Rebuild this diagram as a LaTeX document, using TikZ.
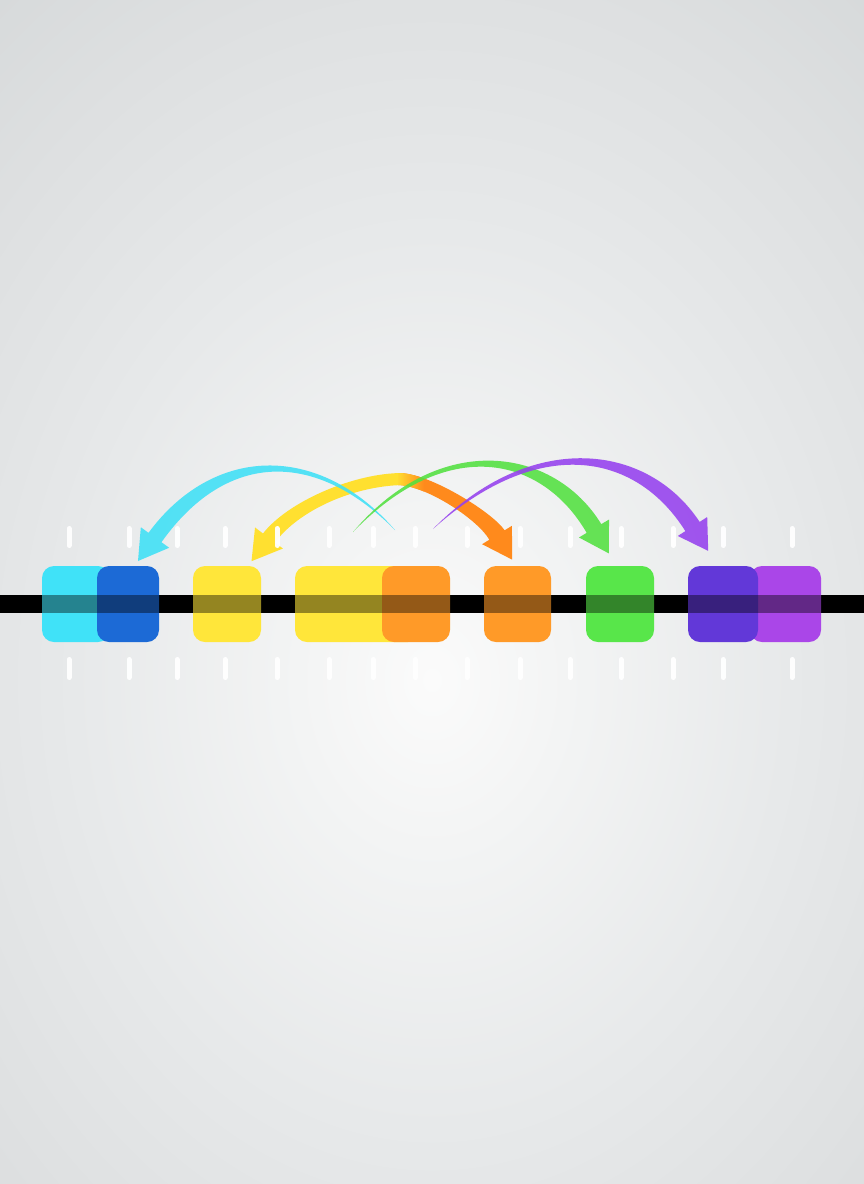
\documentclass[tikz,border=0pt]{standalone}
\usetikzlibrary{calc}
\definecolor{bgA}{HTML}{FBFBFB}
\definecolor{bgB}{HTML}{F3F4F4}
\definecolor{bgC}{HTML}{E7E9EA}
\definecolor{bgD}{HTML}{DEE0E1}
\definecolor{bgE}{HTML}{D6D9DA}
\definecolor{boxcyan}{HTML}{40E2F8}
\definecolor{boxblue}{HTML}{1C6AD6}
\definecolor{boxyellow}{HTML}{FFE63A}
\definecolor{boxorange}{HTML}{FF9A28}
\definecolor{boxgreen}{HTML}{58E64A}
\definecolor{boxindigo}{HTML}{6238D8}
\definecolor{boxviolet}{HTML}{AA46E8}
\definecolor{arrcyan}{HTML}{3EE0F6}
\definecolor{arryellow}{HTML}{FFE030}
\definecolor{arrorange}{HTML}{FF8A1C}
\definecolor{arrgreen}{HTML}{52E040}
\definecolor{arrpurple}{HTML}{9540EE}
\pgfdeclareradialshading{bgrad}{\pgfpoint{0bp}{0bp}}{color(0bp)=(bgA); color(6bp)=(bgB); color(16bp)=(bgC); color(25bp)=(bgD); color(32bp)=(bgE); color(50bp)=(bgE)}
% tapered arrow: #1 style, #2-#5 control coordinates, #6-#9 half widths
\newcommand\tarrow[9]{%
  \path[#1] ($(#2)!#6!-90:(#3)$) .. controls ($(#3)!#7!90:(#2)$) and ($(#4)!#8!-90:(#5)$) .. ($(#5)!#9!90:(#4)$)
    -- ($(#5)!#9!-90:(#4)$) .. controls ($(#4)!#8!90:(#5)$) and ($(#3)!#7!-90:(#2)$) .. ($(#2)!#6!90:(#3)$) -- cycle
    ($(#5)!17.5pt!90:(#4)$) -- ($(#5)!29pt!180:(#4)$) -- ($(#5)!17.5pt!-90:(#4)$) -- cycle;}
\tikzset{
  sqbox/.style={rounded corners=12pt},
  tickmark/.style={draw=white, line width=5pt, line cap=round, opacity=0.95},
  arrowfill/.style={fill=#1, opacity=0.88},
  solidfill/.style={fill=#1}
}
\begin{document}
\begin{tikzpicture}[x=1pt,y=-1pt]
\useasboundingbox (0,0) rectangle (864,1184);
\clip (0,0) rectangle (864,1184);
\shade[shading=bgrad] (-128,-20) rectangle (992,1380);
% track
\fill[black] (-5,595) rectangle (869,613);
% boxes
\fill[boxcyan, sqbox] (42,566) rectangle (110,642);
\fill[boxblue, sqbox] (97,566) rectangle (159,642);
\fill[boxyellow, sqbox] (193,566) rectangle (261,642);
\fill[boxyellow, sqbox] (295,566) rectangle (420,642);
\fill[boxorange, sqbox] (382,566) rectangle (450,642);
\fill[boxorange, sqbox] (484,566) rectangle (551,642);
\fill[boxgreen, sqbox] (586,566) rectangle (654,642);
\fill[boxviolet, sqbox] (750,566) rectangle (821,642);
\fill[boxindigo, sqbox] (688,566) rectangle (758,642);
\fill[black, opacity=0.42] (-5,595) rectangle (869,613);
% arrow coordinates
\coordinate (c0) at (395,530); \coordinate (c1) at (314.8,443.9);
\coordinate (c2) at (218.3,450); \coordinate (c3) at (155,537.5);
\coordinate (y0) at (404,479); \coordinate (y1) at (354,479);
\coordinate (y2) at (293.1,506.1); \coordinate (y3) at (269,538);
\coordinate (o0) at (398,479); \coordinate (o1) at (428,479);
\coordinate (o2) at (485.45,516.3); \coordinate (o3) at (497,535);
\coordinate (g0) at (353,532); \coordinate (g1) at (443.5,432.1);
\coordinate (g2) at (547.9,451.2); \coordinate (g3) at (594,528.5);
\coordinate (p0) at (433,529); \coordinate (p1) at (533.8,432.4);
\coordinate (p2) at (641,446.6); \coordinate (p3) at (692.5,526.5);
% arrows
\tarrow{solidfill=arryellow}{y0}{y1}{y2}{y3}{6pt}{6.5pt}{7pt}{7.5pt}
\tarrow{solidfill=arrorange}{o0}{o1}{o2}{o3}{6pt}{7pt}{8pt}{9pt}
\begin{scope}
\tarrow{clip}{o0}{o1}{o2}{o3}{6pt}{7pt}{8pt}{9pt}
\shade[left color=arryellow, right color=arrorange] (396,455) rectangle (424,505);
\end{scope}
\tarrow{arrowfill=arrcyan}{c0}{c1}{c2}{c3}{0pt}{4pt}{7pt}{8pt}
\tarrow{arrowfill=arrgreen}{g0}{g1}{g2}{g3}{0pt}{4.5pt}{7.5pt}{8.5pt}
\tarrow{arrowfill=arrpurple}{p0}{p1}{p2}{p3}{0pt}{4.5pt}{7.5pt}{8.5pt}
% ticks
\foreach \tx in {69,129,177,225,277,329,373,415,467,520,570,621,673,723,792}{
  \draw[tickmark] (\tx,528.5) -- (\tx,545.5);
  \draw[tickmark] (\tx,659.5) -- (\tx,677.5);
}
\end{tikzpicture}
\end{document}
